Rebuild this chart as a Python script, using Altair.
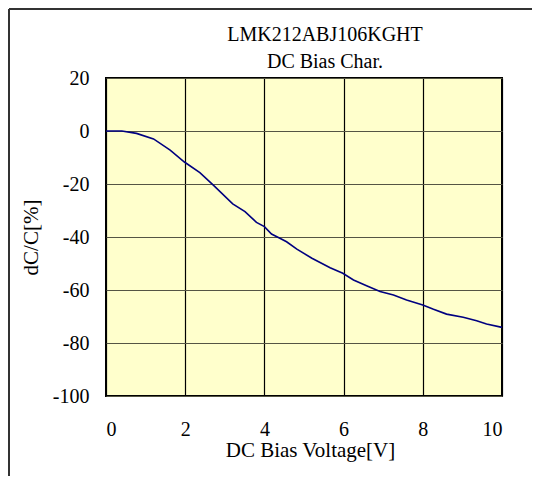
import altair as alt
import pandas as pd

voltage = [0, 0.4, 0.77, 1.2, 1.62, 1.98, 2.37, 2.71, 3.2, 3.51, 3.8, 4.0, 4.18,
           4.39, 4.56, 4.82, 5.2, 5.66, 5.98, 6.25, 6.58, 6.92, 7.26, 7.59, 8.0,
           8.27, 8.6, 9.02, 9.36, 9.61, 10.0]
dcc = [0, 0, -0.9, -3.0, -7.2, -11.7, -15.7, -20.4, -27.5, -30.4, -34.5, -36.1, -38.9,
       -40.5, -41.8, -44.6, -48.0, -51.6, -53.7, -56.2, -58.4, -60.6, -61.9, -63.8, -65.7,
       -67.3, -69.1, -70.3, -71.6, -72.8, -74.1]
x_ticks = [0, 2, 4, 6, 8, 10]
y_ticks = [20, 0, -20, -40, -60, -80, -100]

title_lines = ["LMK212ABJ106KGHT", "DC Bias Char."]
x_title = "DC Bias Voltage[V]"
y_title = "dC/C[%]"

W, H = 396, 318
PAD = {"left": 98, "top": 70, "right": 30, "bottom": 80}
FONT = "Liberation Serif"

df = pd.DataFrame({"V": voltage, "C": dcc})

line = alt.Chart(df).mark_line(color="#000080", strokeWidth=1.6).encode(
    x=alt.X("V:Q", scale=alt.Scale(domain=[0, 10], nice=False),
            axis=alt.Axis(values=x_ticks, title=x_title, grid=True, gridColor="#000000",
                          gridWidth=1.2, ticks=False, tickSize=0, domain=False,
                          labelPadding=39, labelBaseline="alphabetic",
                          labelExpr="'' + datum.value",
                          labelFont=FONT, labelFontSize=20, labelColor="#000000",
                          titleFont=FONT, titleFontSize=21, titleColor="#000000",
                          titleFontWeight="normal",
                          titleX=204, titleY=60, titleBaseline="alphabetic",
                          titleAlign="center")),
    y=alt.Y("C:Q", scale=alt.Scale(domain=[-100, 20], nice=False),
            axis=alt.Axis(values=y_ticks, title=y_title, grid=True, gridColor="#555544",
                          gridWidth=1.2, ticks=False, tickSize=0, domain=False,
                          labelPadding=17, labelExpr="'' + datum.value",
                          labelFont=FONT, labelFontSize=20, labelColor="#000000",
                          titleFont=FONT, titleFontSize=21, titleColor="#000000",
                          titleFontWeight="normal",
                          titleX=-75, titleY=H / 2,
                          titleBaseline="middle", titleAlign="center", titleAngle=270)),
)

frame_src = pd.DataFrame({"a": [0]})
frame_left = alt.Chart(frame_src).mark_rule(color="#333333", strokeWidth=2).encode(
    x=alt.value(-97), y=alt.value(-69), y2=alt.value(H + PAD["bottom"]))
frame_top = alt.Chart(frame_src).mark_rule(color="#333333", strokeWidth=2).encode(
    x=alt.value(-97), x2=alt.value(W + PAD["right"]), y=alt.value(-69))

chart = alt.layer(line, frame_left, frame_top).properties(
    width=W, height=H,
    title=alt.TitleParams(text=title_lines, font=FONT, fontSize=20, fontWeight="normal",
                          color="#000000", lineHeight=27, anchor="middle", dx=21,
                          baseline="bottom", offset=-84),
    autosize=alt.AutoSizeParams(type="none"),
    padding=PAD,
    background="#ffffff",
).configure_view(
    fill="#FFFFCC", stroke="#000000", strokeWidth=2
)

chart.save("out.html", embed_options={"renderer": "svg", "actions": False})
